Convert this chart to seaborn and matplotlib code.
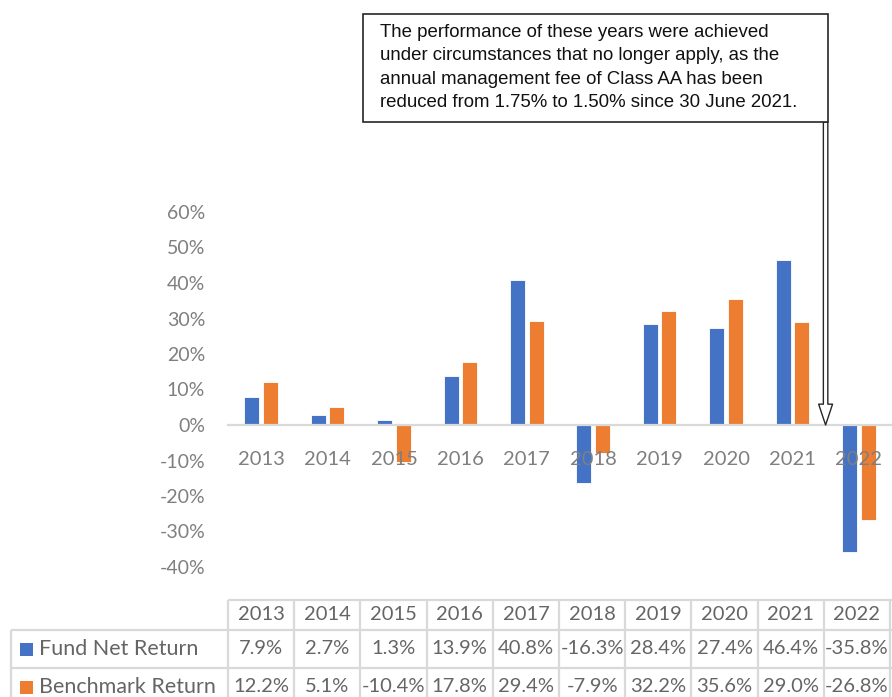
import pandas as pd
import seaborn as sns
import matplotlib.pyplot as plt
from matplotlib.patches import Rectangle
from matplotlib.ticker import PercentFormatter

years = ['2013', '2014', '2015', '2016', '2017', '2018', '2019', '2020', '2021', '2022']
fund_net = [7.9, 2.7, 1.3, 13.9, 40.8, -16.3, 28.4, 27.4, 46.4, -35.8]
benchmark = [12.2, 5.1, -10.4, 17.8, 29.4, -7.9, 32.2, 35.6, 29.0, -26.8]
series = ['Fund Net Return', 'Benchmark Return']
colors = ['#4472C4', '#ED7D31']
note_lines = ['The performance of these years were achieved',
              'under circumstances that no longer apply, as the',
              'annual management fee of Class AA has been',
              'reduced from 1.75% to 1.50% since 30 June 2021.']

sns.set_theme(style='white')
plt.rcParams['font.family'] = ['Lato', 'DejaVu Sans']
plt.rcParams['axes.unicode_minus'] = False

data = pd.DataFrame({'Year': years * 2,
                     'Return': fund_net + benchmark,
                     'Series': [series[0]] * len(years) + [series[1]] * len(years)})

W, H = 892, 697
fig = plt.figure(figsize=(W / 100, H / 100), dpi=100)
ax = fig.add_axes([228 / W, 1 - 567 / H, (892 - 228) / W, (567 - 212) / H])
sns.barplot(data=data, x='Year', y='Return', hue='Series', palette=colors,
            saturation=1, width=0.56, gap=0.2, edgecolor='white', linewidth=0.6,
            legend=False, ax=ax)
ax.set_xlim(-0.5, 9.5)
ax.set_ylim(-40, 60)
ax.set_yticks(range(-40, 61, 10))
ax.yaxis.set_major_formatter(PercentFormatter(decimals=0))
ax.set_xlabel('')
ax.set_ylabel('')
ax.set_axisbelow(False)
for s in ['left', 'right', 'top']:
    ax.spines[s].set_visible(False)
ax.spines['bottom'].set_position(('data', 0))
ax.spines['bottom'].set_color('#d9d9d9')
ax.spines['bottom'].set_linewidth(1.6)
ax.tick_params(axis='both', length=0, labelcolor='#7f7f7f')
ax.tick_params(axis='x', labelsize=14.5, pad=18.5)
ax.tick_params(axis='y', labelsize=14, pad=16.5)

# arrow from the note box down to the axis between 2021 and 2022
ax.annotate('', xy=(8.5, 0), xytext=(8.5, (425 - 122) / 3.55),
            annotation_clip=False,
            arrowprops=dict(arrowstyle='simple,head_length=1.5,head_width=1.0,tail_width=0.32',
                            fc='white', ec='#262626', lw=1.0, shrinkA=0, shrinkB=0,
                            mutation_scale=10))

# note box
fig.add_artist(Rectangle((363 / W, 1 - 122 / H), (828 - 363) / W, (122 - 14) / H,
                         transform=fig.transFigure, fc='white', ec='#262626', lw=1.2))
for i, line in enumerate(note_lines):
    fig.text(380 / W, 1 - (37.3 + 23.1 * i) / H, line, fontsize=13.4, va='baseline',
             family=['Liberation Sans', 'DejaVu Sans'], color='#111111')

# data table under the chart
tab = fig.add_axes([0, 0, 1, 1])
tab.set_xlim(0, W)
tab.set_ylim(H, 0)
tab.axis('off')
col_w = 66.2
edges = [228 + col_w * k for k in range(len(years) + 1)]
grid = '#d9d9d9'
tab.hlines(600, 228, W, color=grid, lw=1.6)
tab.hlines([630, 668], 11, W, color=grid, lw=1.6)
tab.vlines(11, 630, H, color=grid, lw=1.6)
tab.vlines(edges, 600, H, color=grid, lw=1.6)
txt = '#656565'
for k, y in enumerate(years):
    cx = edges[k] + col_w / 2
    tab.text(cx, 615, y, ha='center', va='center', fontsize=14.5, color=txt)
    tab.text(cx, 649, f'{fund_net[k]:.1f}%', ha='center', va='center', fontsize=14.5, color=txt)
    tab.text(cx, 687, f'{benchmark[k]:.1f}%', ha='center', va='center', fontsize=14.5, color=txt)
for name, c, cy in zip(series, colors, [649, 687]):
    tab.add_patch(Rectangle((20, cy - 6.5), 13, 13, fc=c, ec='none'))
    tab.text(39, cy, name, ha='left', va='center', fontsize=15.5, color=txt)

fig.savefig('out.png', dpi=100)
